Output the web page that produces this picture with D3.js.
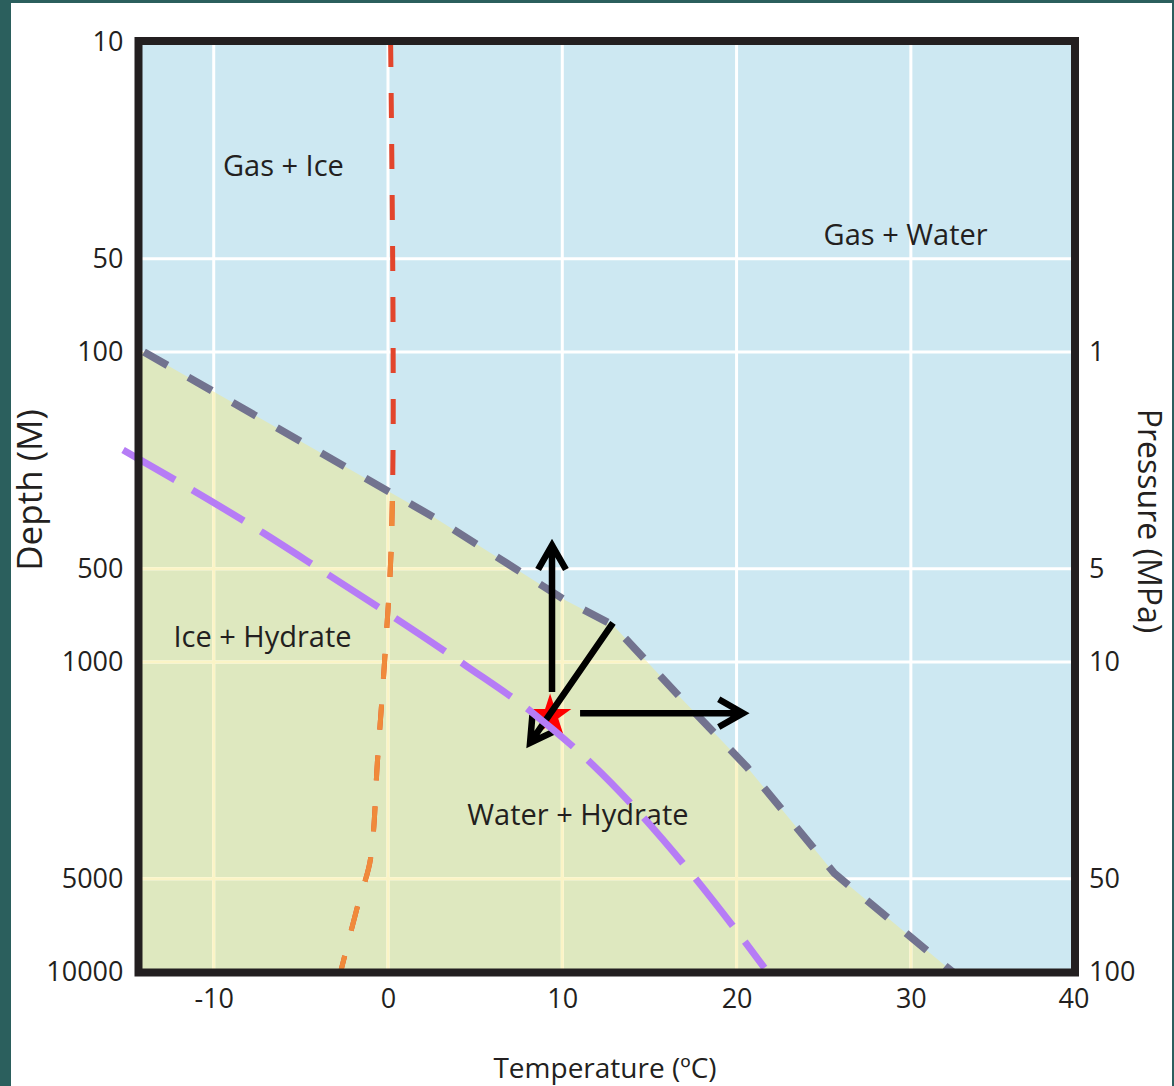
<!DOCTYPE html>
<html>
<head>
<meta charset="utf-8">
<script src="https://cdnjs.cloudflare.com/ajax/libs/d3/7.8.5/d3.min.js"></script>
<style>
  body { margin: 0; background: #fff; }
  svg text { font-family: "Open Sans", sans-serif; fill: #231f20; }
</style>
</head>
<body>
<script>
var w = 1174, h = 1086;

// ticks
var tempTicks = [-10, 0, 10, 20, 30, 40];
var depthTicks = [10, 50, 100, 500, 1000, 5000, 10000];
var pressureTicks = [1, 5, 10, 50, 100];
var gridTemps = [-10, 0, 10, 20, 30];
var gridDepths = [50, 100, 500, 1000, 5000];

// hydrate stability boundary (gray dashed)
var hydrateT = [-14, 2.7, 10.15, 12.9, 16.75, 20.6, 25.6, 32.4];
var hydrateDepth = [100, 343, 631, 760, 1297, 2183, 4800, 10000];

// ice / water line (red above, orange below)
var iceT = [0.15, 0.3, 0.2, -0.2, -0.6, -1.0, -1.7, -2.7];
var iceDepth = [10, 150, 400, 1000, 2070, 4300, 6000, 9900];

// purple dashed curve
var geoT = [-15.2, -7.17, -4.3, 4.42, 8.32, 11.76, 17.15, 19.97, 21.6];
var geoDepth = [207, 383, 486, 1023, 1462, 2148, 4620, 7330, 9700];

// star + arrows
var starT = 9.3, starDepth = 1493;
var arrowFromT = [9.41, 12.91, 11.02], arrowFromD = [1250, 748, 1462];
var arrowToT = [9.41, 8.15, 20.37], arrowToD = [420, 1824, 1462];

// region labels
var regionNames = ["Gas + Ice", "Gas + Water", "Ice + Hydrate", "Water + Hydrate"];
var regionT = [-6.0, 29.7, -7.2, 10.9];
var regionDepth = [25, 42, 830, 3120];

var svg = d3.select("body").append("svg")
            .attr("width", w)
            .attr("height", h);

// slide background strips
var teal = "#2b5f5d";
svg.append("rect").attr("x", 0).attr("y", 0).attr("width", 11).attr("height", h).attr("fill", teal);
svg.append("rect").attr("x", 0).attr("y", 0).attr("width", w).attr("height", 3).attr("fill", teal);
svg.append("rect").attr("x", w - 2).attr("y", 0).attr("width", 2).attr("height", h).attr("fill", teal);

var x = d3.scaleLinear().domain([-14, 39.4]).range([144, 1074.7]);
var y = d3.scaleLog().domain([10, 10000]).range([42, 972]);
var yp = d3.scaleLog().domain([0.1, 100]).range(y.range());

var fx0 = 138.5, fx1 = 1075, fy0 = 41, fy1 = 972.5, fw = 8;

var defs = svg.append("defs");
defs.append("clipPath").attr("id", "plotClip")
    .append("rect")
    .attr("x", fx0).attr("y", fy0)
    .attr("width", fx1 - fx0).attr("height", fy1 - fy0);

var hydratePts = hydrateT.map(function(t, i) { return [t, hydrateDepth[i]]; });
var greenPts = hydratePts.concat([[hydrateT[hydrateT.length - 1], 20000], [-20, 20000], [-20, hydrateDepth[0]]]);
var lineXY = d3.line().x(function(d) { return x(d[0]); }).y(function(d) { return y(d[1]); });

defs.append("clipPath").attr("id", "greenClip")
    .append("path")
    .attr("d", lineXY(greenPts) + "Z");

var plot = svg.append("g").attr("clip-path", "url(#plotClip)");

plot.append("rect")
    .attr("x", fx0).attr("y", fy0)
    .attr("width", fx1 - fx0).attr("height", fy1 - fy0)
    .attr("fill", "#cde8f2");

plot.append("path")
    .attr("d", lineXY(greenPts) + "Z")
    .attr("fill", "#dee8bf");

function drawGrid(g, color) {
  g.selectAll(".vg").data(gridTemps).enter().append("line")
   .attr("x1", function(d) { return x(d); }).attr("x2", function(d) { return x(d); })
   .attr("y1", fy0).attr("y2", fy1)
   .attr("stroke", color).attr("stroke-width", 3);
  g.selectAll(".hg").data(gridDepths).enter().append("line")
   .attr("y1", function(d) { return y(d); }).attr("y2", function(d) { return y(d); })
   .attr("x1", fx0).attr("x2", fx1)
   .attr("stroke", color).attr("stroke-width", 3);
}
drawGrid(plot.append("g"), "#ffffff");
drawGrid(plot.append("g").attr("clip-path", "url(#greenClip)"), "#fbf4c6");

// region labels
svg.selectAll(".region").data(regionNames).enter().append("text")
   .attr("x", function(d, i) { return x(regionT[i]); })
   .attr("y", function(d, i) { return y(regionDepth[i]); })
   .attr("dy", "0.35em")
   .attr("text-anchor", "middle")
   .style("font-size", "29px")
   .text(function(d) { return d; });

// hydrate boundary
plot.append("path")
    .attr("d", lineXY(hydratePts))
    .attr("fill", "none")
    .attr("stroke", "#72738f")
    .attr("stroke-width", 7.5)
    .attr("stroke-dasharray", "27 24");

// ice line: red everywhere, orange over it inside hydrate field
var icePts = iceT.map(function(t, i) { return [t, iceDepth[i]]; });
var iceLine = d3.line().curve(d3.curveMonotoneY)
                .x(function(d) { return x(d[0]); }).y(function(d) { return y(d[1]); });
plot.append("path")
    .attr("d", iceLine(icePts))
    .attr("fill", "none")
    .attr("stroke", "#e2452c")
    .attr("stroke-width", 5)
    .attr("stroke-dasharray", "25 26");
plot.append("g").attr("clip-path", "url(#greenClip)")
    .append("path")
    .attr("d", iceLine(icePts))
    .attr("fill", "none")
    .attr("stroke", "#f08a3a")
    .attr("stroke-width", 5)
    .attr("stroke-dasharray", "25 26");

// star
svg.append("path")
   .attr("d", d3.symbol().type(d3.symbolStar).size(560)())
   .attr("transform", "translate(" + x(starT) + "," + y(starDepth) + ")")
   .attr("fill", "#ff0000");

// arrows
for (var i = 0; i < arrowFromT.length; i++) {
  var x1 = x(arrowFromT[i]), y1 = y(arrowFromD[i]);
  var x2 = x(arrowToT[i]), y2 = y(arrowToD[i]);
  var ang = Math.atan2(y2 - y1, x2 - x1);
  var L = 28, a = 0.52;
  var p1 = [x2 - L * Math.cos(ang - a), y2 - L * Math.sin(ang - a)];
  var p2 = [x2 - L * Math.cos(ang + a), y2 - L * Math.sin(ang + a)];
  svg.append("path")
     .attr("d", "M" + x1 + "," + y1 + "L" + x2 + "," + y2 +
                "M" + p1 + "L" + x2 + "," + y2 + "L" + p2)
     .attr("fill", "none")
     .attr("stroke", "#000")
     .attr("stroke-width", 6.5)
     .attr("stroke-linejoin", "miter");
}

// purple curve (runs past the left frame)
var geoPts = geoT.map(function(t, i) { return [t, geoDepth[i]]; });
svg.append("path")
   .attr("d", d3.line().curve(d3.curveMonotoneX)
                .x(function(d) { return x(d[0]); }).y(function(d) { return y(d[1]); })(geoPts))
   .attr("fill", "none")
   .attr("stroke", "#b67cf6")
   .attr("stroke-width", 7)
   .attr("stroke-dasharray", "60 20");

// frame
svg.append("rect")
   .attr("x", fx0).attr("y", fy0)
   .attr("width", fx1 - fx0).attr("height", fy1 - fy0)
   .attr("fill", "none")
   .attr("stroke", "#231f20")
   .attr("stroke-width", fw);

// axes
var plain = function(d) { return String(d); };
var left = svg.append("g").attr("transform", "translate(" + fx0 + ",0)")
              .call(d3.axisLeft(y).tickValues(depthTicks).tickSize(0).tickPadding(15).tickFormat(plain));
var bottom = svg.append("g").attr("transform", "translate(0," + fy1 + ")")
                .call(d3.axisBottom(x).tickValues(tempTicks).tickSize(0).tickPadding(16).tickFormat(plain));
var right = svg.append("g").attr("transform", "translate(" + fx1 + ",0)")
               .call(d3.axisRight(yp).tickValues(pressureTicks).tickSize(0).tickPadding(14).tickFormat(plain));
[left, bottom, right].forEach(function(g) {
  g.select(".domain").remove();
  g.selectAll("text").style("font-size", "27px").attr("fill", "#231f20")
   .style("font-family", '"Open Sans", sans-serif');
});
// the 40 label sits at the right edge of the frame
bottom.selectAll(".tick").filter(function(d) { return d === 40; })
      .attr("transform", "translate(" + (fx1 - 1) + ",0)");

// axis titles
svg.append("text")
   .attr("transform", "translate(42,490) rotate(-90)")
   .attr("text-anchor", "middle")
   .style("font-size", "35px")
   .text("Depth (M)");
svg.append("text")
   .attr("transform", "translate(1138,521) rotate(90)")
   .attr("text-anchor", "middle")
   .style("font-size", "32px")
   .text("Pressure (MPa)");
svg.append("text")
   .attr("x", 605).attr("y", 1078)
   .attr("text-anchor", "middle")
   .style("font-size", "28px")
   .text("Temperature (\u00baC)");
</script>
</body>
</html>
